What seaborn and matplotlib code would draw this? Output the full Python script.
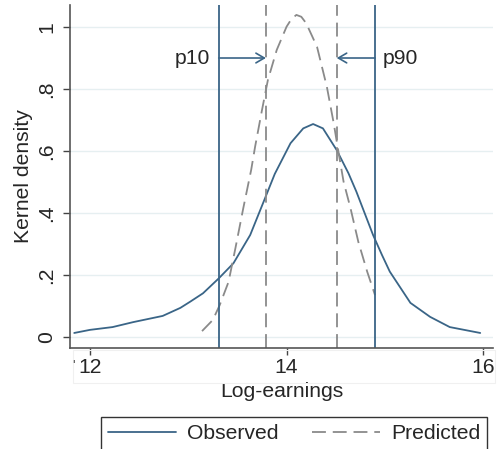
import numpy as np
import pandas as pd
import matplotlib
matplotlib.use("Agg")
import matplotlib.pyplot as plt
from matplotlib.patches import Rectangle
import seaborn as sns

# ---- data ----
obs_x = [11.84, 12.00, 12.23, 12.44, 12.74, 12.92, 13.02, 13.15, 13.31, 13.46, 13.63,
         13.78, 13.88, 14.04, 14.17, 14.27, 14.37, 14.51, 14.63, 14.71, 14.88, 14.97,
         15.05, 15.26, 15.46, 15.66, 15.97]
obs_y = [0.013, 0.023, 0.032, 0.048, 0.068, 0.094, 0.114, 0.141, 0.189, 0.238, 0.329,
         0.447, 0.526, 0.625, 0.673, 0.687, 0.673, 0.603, 0.528, 0.469, 0.329, 0.265,
         0.211, 0.110, 0.065, 0.032, 0.013]
pred_x = [13.14, 13.25, 13.32, 13.41, 13.48, 13.56, 13.64, 13.68, 13.75, 13.81, 13.90,
          14.00, 14.05, 14.10, 14.15, 14.20, 14.31, 14.41, 14.48, 14.53, 14.58, 14.65,
          14.73, 14.82, 14.90]
pred_y = [0.019, 0.055, 0.103, 0.178, 0.287, 0.416, 0.539, 0.614, 0.732, 0.829, 0.926,
          1.001, 1.026, 1.039, 1.033, 1.012, 0.936, 0.807, 0.689, 0.593, 0.501, 0.416,
          0.307, 0.211, 0.135]
obs_p10, obs_p90 = 13.31, 14.90
pred_p10, pred_p90 = 13.79, 14.51
arrow_y = 0.90
x_ticks = [12, 14, 16]
y_ticks = [0, 0.2, 0.4, 0.6, 0.8, 1.0]
y_tick_labels = ["0", ".2", ".4", ".6", ".8", "1"]
series = ["Observed", "Predicted"]

sns.set_style("white")
plt.rcParams["font.family"] = ["Liberation Sans", "DejaVu Sans"]

navy = "#3a6587"
gray = "#8a8a8a"
FS = 15.2
DASH = (7.7, 3.8)

df = pd.concat([
    pd.DataFrame({"x": obs_x, "y": obs_y, "series": series[0]}),
    pd.DataFrame({"x": pred_x, "y": pred_y, "series": series[1]}),
])

W, H = 497, 449
fig = plt.figure(figsize=(W / 100, H / 100), dpi=100)
ax = fig.add_axes([70 / W, 1 - 348 / H, (493 - 70) / W, (348 - 5) / H])

for yt in y_ticks:
    ax.axhline(yt, color="#e6eff1", lw=1.0, zorder=0)

sns.lineplot(data=df, x="x", y="y", hue="series", style="series",
             palette={series[0]: navy, series[1]: gray},
             dashes={series[0]: "", series[1]: DASH},
             sort=False, estimator=None, lw=1.3, ax=ax, legend=False)

ax.axvline(obs_p10, color=navy, lw=1.3)
ax.axvline(obs_p90, color=navy, lw=1.3)
ax.axvline(pred_p10, color=gray, lw=1.3, dashes=DASH)
ax.axvline(pred_p90, color=gray, lw=1.3, dashes=DASH)

ap = dict(arrowstyle="->,head_length=0.6,head_width=0.35", color=navy, lw=1.2,
          shrinkA=0, shrinkB=0)
ax.annotate("", xy=(pred_p10, arrow_y), xytext=(obs_p10, arrow_y), arrowprops=ap)
ax.annotate("", xy=(pred_p90, arrow_y), xytext=(obs_p90, arrow_y), arrowprops=ap)
ax.text(obs_p10 - 0.09, arrow_y, "p10", ha="right", va="center", fontsize=FS)
ax.text(obs_p90 + 0.08, arrow_y, "p90", ha="left", va="center", fontsize=FS)

ax.set_xlim(11.797, 16.10)
ax.set_ylim(-0.0355, 1.071)
ax.set_xticks(x_ticks)
ax.set_xticklabels([str(t) for t in x_ticks], fontsize=FS)
ax.set_yticks(y_ticks)
ax.set_yticklabels(y_tick_labels, fontsize=FS, rotation=90, va="center")
ax.tick_params(axis="both", direction="out", length=5, width=1, color="#444444",
               bottom=True, left=True, pad=2)
ax.tick_params(axis="y", pad=5)
sns.despine(ax=ax, top=True, right=True)
for s in ["left", "bottom"]:
    ax.spines[s].set_color("#555555")
    ax.spines[s].set_linewidth(1.2)
ax.set_xlabel("Log-earnings", fontsize=FS, labelpad=4)
ax.set_ylabel("Kernel density", fontsize=FS, labelpad=3)

# faint frame around tick-label band
fig.patches.append(Rectangle((73 / W, 1 - 383 / H), (495 - 73) / W, (383 - 350) / H,
                             transform=fig.transFigure, fill=False,
                             edgecolor="#f0f0f0", lw=0.8))
fig.text(74 / W, 1 - 366 / H, "'", fontsize=10, color="#555555", ha="center", va="center")

handles = [plt.Line2D([], [], color=navy, lw=1.3),
           plt.Line2D([], [], color=gray, lw=1.3, dashes=DASH)]
leg = fig.legend(handles, series, loc="upper left",
                 bbox_to_anchor=(101 / W, -0.2, (487 - 101) / W, 1.2 - 417 / H),
                 mode="expand", ncol=2, frameon=True, fancybox=False,
                 edgecolor="black", fontsize=FS, handlelength=3.2,
                 borderaxespad=0, borderpad=0.33, handletextpad=0.52, columnspacing=2.1)
leg.get_frame().set_linewidth(1.0)

fig.savefig("out.png", dpi=100)
